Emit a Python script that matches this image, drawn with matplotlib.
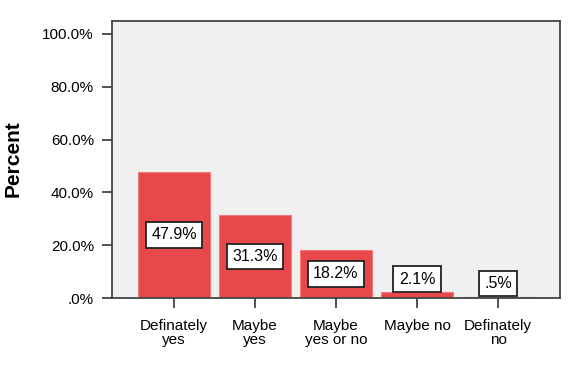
import matplotlib.pyplot as plt
import numpy as np

categories = ["Definately\nyes", "Maybe\nyes", "Maybe\nyes or no", "Maybe no", "Definately\nno"]
percents = [47.9, 31.3, 18.2, 2.1, 0.5]
bar_labels = ["47.9%", "31.3%", "18.2%", "2.1%", ".5%"]
yticks = [0, 20, 40, 60, 80, 100]
ytick_labels = [".0%", "20.0%", "40.0%", "60.0%", "80.0%", "100.0%"]

plt.rcParams['font.family'] = ['Liberation Sans', 'DejaVu Sans']

fig = plt.figure(figsize=(5.73, 3.67), dpi=100)
ax = fig.add_axes([112 / 573, 1 - 298 / 367, (560 - 112) / 573, (298 - 21) / 367])
ax.set_facecolor('#f0f0f0')

x = np.arange(len(categories))
ax.bar(x, percents, width=0.9, color='#e8474b', edgecolor='#f07a7c', linewidth=0.8, zorder=2)

# value labels in white boxes, small bars get their label just above
for xi, h, lab in zip(x, percents, bar_labels):
    ly = h / 2 if h > 10 else h + 5
    ax.text(xi, ly, lab, ha='center', va='center', fontsize=11.5, zorder=3,
            bbox=dict(boxstyle='square,pad=0.33', facecolor='white', edgecolor='#222222', linewidth=1.3))

ax.set_xlim(-0.765, len(categories) - 1 + 0.765)
ax.set_ylim(0, 104.9)
ax.set_xticks(x)
ax.set_xticklabels(categories, fontsize=11, linespacing=1.0)
ax.set_yticks(yticks)
ax.set_yticklabels(ytick_labels, fontsize=11)
ax.tick_params(axis='both', direction='out', length=7, width=1.2, colors='#333333', labelcolor='black')
ax.tick_params(axis='y', pad=6)
ax.tick_params(axis='x', pad=8)

for s in ax.spines.values():
    s.set_color('#444444')
    s.set_linewidth(1.3)

fig.text(13 / 573, 1 - 159 / 367, "Percent", rotation=90, ha='center', va='center',
         fontsize=15, fontweight='bold')

fig.savefig("out.png", dpi=100)
